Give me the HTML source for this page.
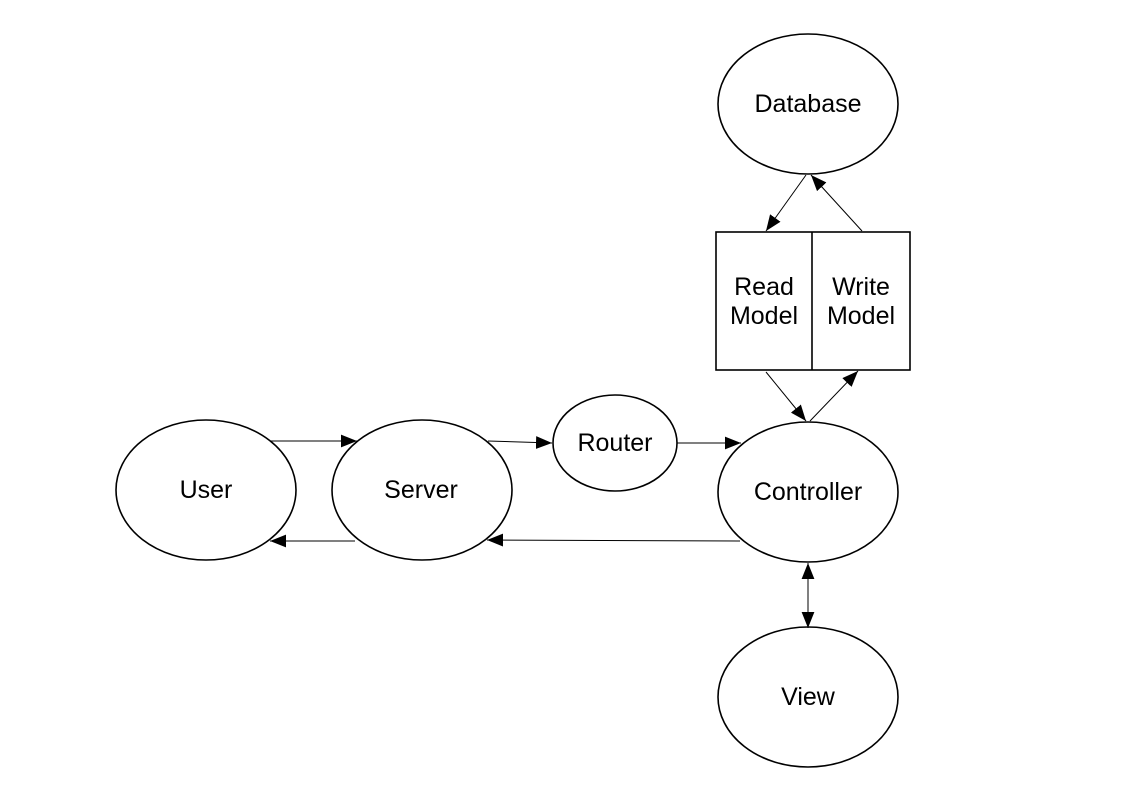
<!DOCTYPE html>
<html><head><meta charset="utf-8"><style>
html,body{margin:0;padding:0;background:#fff}
svg{display:block}
text{font-family:"Liberation Sans",sans-serif;font-size:25px;fill:#000;text-anchor:middle;dominant-baseline:central}
</style></head><body>
<svg width="1123" height="794" viewBox="0 0 1123 794">
<defs>
<marker id="a" viewBox="0 0 10 10" refX="10" refY="5" markerWidth="16" markerHeight="16" markerUnits="userSpaceOnUse" orient="auto-start-reverse">
<path d="M0,1 L10,5 L0,9 z" fill="#000"/></marker>
</defs>
<g fill="none" stroke="#000" stroke-width="1.6">
<ellipse cx="808" cy="104" rx="90" ry="70"/>
<rect x="716" y="232" width="194" height="138"/>
<line x1="812" y1="232" x2="812" y2="370"/>
<ellipse cx="615" cy="443" rx="62" ry="48"/>
<ellipse cx="206" cy="490" rx="90" ry="70"/>
<ellipse cx="422" cy="490" rx="90" ry="70"/>
<ellipse cx="808" cy="492" rx="90" ry="70"/>
<ellipse cx="808" cy="697" rx="90" ry="70"/>
</g>
<g stroke="#000" stroke-width="1" fill="none">
<line x1="270" y1="441" x2="357" y2="441" marker-end="url(#a)"/>
<line x1="355" y1="541" x2="270" y2="541" marker-end="url(#a)"/>
<line x1="488" y1="441" x2="552" y2="443" marker-end="url(#a)"/>
<line x1="677" y1="443" x2="741" y2="443" marker-end="url(#a)"/>
<line x1="740" y1="541" x2="487" y2="540" marker-end="url(#a)"/>
<line x1="808" y1="563" x2="808" y2="628" marker-start="url(#a)" marker-end="url(#a)"/>
<line x1="766" y1="372" x2="806" y2="421" marker-end="url(#a)"/>
<line x1="810" y1="421" x2="858" y2="371" marker-end="url(#a)"/>
<line x1="806" y1="175" x2="766" y2="231" marker-end="url(#a)"/>
<line x1="862" y1="231" x2="811" y2="175" marker-end="url(#a)"/>
</g>
<text x="808" y="104">Database</text>
<text x="764" y="287">Read</text>
<text x="764" y="316">Model</text>
<text x="861" y="287">Write</text>
<text x="861" y="316">Model</text>
<text x="615" y="443">Router</text>
<text x="206" y="490">User</text>
<text x="421" y="490">Server</text>
<text x="808" y="492">Controller</text>
<text x="808" y="697">View</text>
</svg>
</body></html>
